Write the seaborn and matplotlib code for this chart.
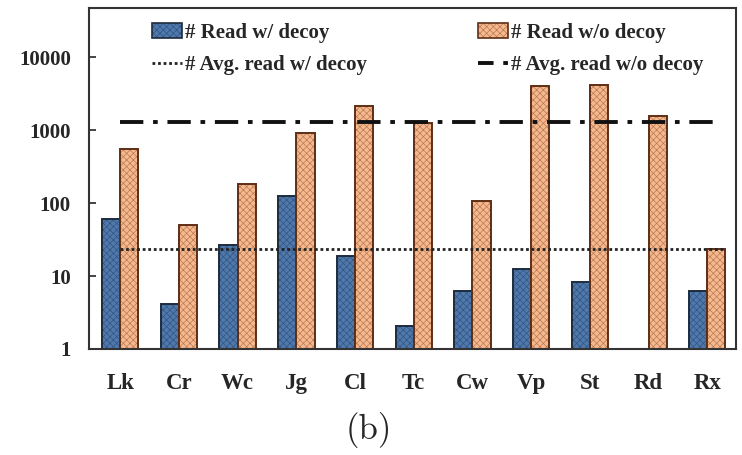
import matplotlib
matplotlib.use("Agg")
import matplotlib.pyplot as plt
import seaborn as sns
import numpy as np
import pandas as pd
from matplotlib.patches import Patch
from matplotlib.lines import Line2D

categories = ["Lk", "Cr", "Wc", "Jg", "Cl", "Tc", "Cw", "Vp", "St", "Rd", "Rx"]
read_with_decoy = [60, 4.2, 27, 125, 19, 2.05, 6.3, 12.5, 8.2, np.nan, 6.3]
read_without_decoy = [560, 50, 183, 920, 2150, 1260, 108, 4050, 4100, 1580, 23.5]
avg_with_decoy = 23.5
avg_without_decoy = 1310
series_names = ["# Read w/ decoy", "# Read w/o decoy"]
line_names = ["# Avg. read w/ decoy", "# Avg. read w/o decoy"]
yticks = [1, 10, 100, 1000, 10000]
ytick_labels = ["1", "10", "100", "1000", "10000"]

blue = "#4f79ad"
orange = "#f6b98f"
blue_edge = "#1d2b3c"
orange_edge = "#5e2e14"
blue_hatch = "#33557f"
orange_hatch = "#b97a52"

sns.set_style("white")
plt.rcParams["font.family"] = ["Liberation Serif", "DejaVu Serif"]
plt.rcParams["hatch.linewidth"] = 0.5

df = pd.DataFrame({
    "cat": categories * 2,
    "val": read_with_decoy + read_without_decoy,
    "series": [series_names[0]] * len(categories) + [series_names[1]] * len(categories),
})

fig = plt.figure(figsize=(7.42, 4.55), dpi=100)
ax = fig.add_axes([0.12, 0.233, 0.872, 0.749])
ax.set_yscale("log")
sns.barplot(data=df, x="cat", y="val", hue="series", order=categories,
            hue_order=series_names, palette=[blue, orange], width=0.62,
            ax=ax, legend=False, saturation=1)

styles = [(blue, blue_edge, blue_hatch), (orange, orange_edge, orange_hatch)]
for cont, (fc, ec, hc) in zip(ax.containers, styles):
    for p in cont:
        p.set_facecolor(fc)
        p.set_edgecolor(ec)
        p.set_hatch("xxxxx")
        p.set_linewidth(1.4)
        p._hatch_color = matplotlib.colors.to_rgba(hc)

n = len(categories)
x0, x1 = 0, n - 1 + 0.31
ax.hlines(avg_with_decoy, x0, x1, colors="#222222", linestyles=(0, (1, 1)), lw=2.0, zorder=5)
ax.hlines(avg_without_decoy, x0, x1 - 0.2, colors="#111111", linestyles=(0, (6, 2.5, 1.2, 2.5)), lw=2.8, zorder=5)

ax.set_xlim(-0.53, 10.49)
ax.set_ylim(1, 47000)
ax.set_yticks(yticks)
ax.set_yticklabels(ytick_labels)
ax.yaxis.set_minor_locator(matplotlib.ticker.NullLocator())
ax.set_xlabel("")
ax.set_ylabel("")
ax.tick_params(axis="y", direction="in", length=5, width=1.2, left=True, labelsize=15, pad=13)
ax.tick_params(axis="x", length=0, labelsize=16.5, pad=17)
for lab in ax.get_xticklabels() + ax.get_yticklabels():
    lab.set_fontweight("bold")
for s in ax.spines.values():
    s.set_color("#333333")
    s.set_linewidth(1.5)

bh = Patch(facecolor=blue, edgecolor=blue_edge, hatch="xxxxx", lw=1.2)
bh._hatch_color = matplotlib.colors.to_rgba(blue_hatch)
oh = Patch(facecolor=orange, edgecolor=orange_edge, hatch="xxxxx", lw=1.2)
oh._hatch_color = matplotlib.colors.to_rgba(orange_hatch)
handles = [
    bh,
    Line2D([0], [0], color="#222222", ls=(0, (1, 1)), lw=2.0),
    oh,
    Line2D([0], [0], color="#111111", ls=(0, (4, 2.5, 1.2, 2.5)), lw=2.8),
]
labels = [series_names[0], line_names[0], series_names[1], line_names[1]]
leg = ax.legend(handles, labels, ncol=2, loc="upper left", bbox_to_anchor=(0.075, 1.0),
                frameon=False, prop={"weight": "bold", "size": 15}, handlelength=1.45,
                handletextpad=0.15, labelspacing=0.6, columnspacing=5.3,
                borderaxespad=0.3)

fig.text(0.497, 0.055, "(b)", family="cmr10", fontsize=25, ha="center", va="center")

fig.savefig("out.png", dpi=100)
